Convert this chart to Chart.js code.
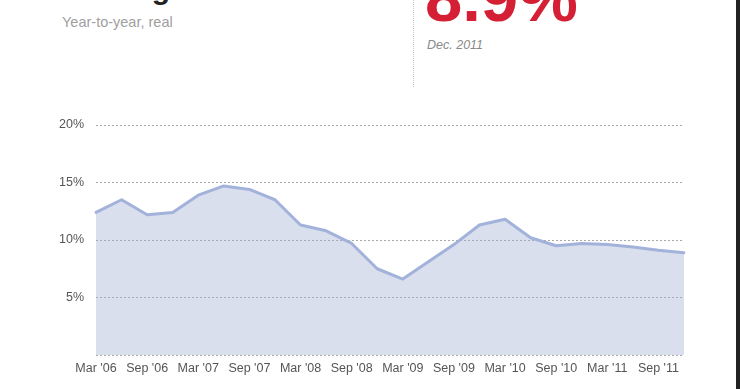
<!DOCTYPE html>
<html>
<head>
<meta charset="utf-8">
<script src="https://cdn.jsdelivr.net/npm/chart.js@4"></script>
<style>
  html, body { margin:0; padding:0; background:#fff; width:740px; height:389px; overflow:hidden; position:relative; font-family:"Liberation Sans", Arial, sans-serif; }
  .abs { position:absolute; white-space:nowrap; line-height:1; }
  #title { right:570px; top:-26.4px; font-size:30px; font-weight:bold; color:#222; }
  #sub { left:62px; top:15.2px; font-size:14.5px; color:#a0a0a0; }
  #sep { left:413px; top:0; height:87px; width:0; border-left:1px dotted #c8c8c8; }
  #big { left:425px; top:-35.7px; font-size:67px; font-weight:bold; color:#d41f35; }
  #date { left:427px; top:39.4px; font-size:12.5px; font-style:italic; color:#8a8a8a; }
  #bar { left:736px; top:0; width:4px; height:389px; background:#222; }
  #wrap { position:absolute; left:0; top:100px; width:700px; height:289px; }
</style>
</head>
<body>
<div id="title" class="abs">Consumer lending</div>
<div id="sub" class="abs">Year-to-year, real</div>
<div id="sep" class="abs"></div>
<div id="big" class="abs">8.9%</div>
<div id="date" class="abs">Dec. 2011</div>
<div id="bar" class="abs"></div>
<div id="wrap"><canvas id="c" width="700" height="289"></canvas></div>
<script>
const categories = [
  "Mar '06","Jun '06","Sep '06","Dec '06",
  "Mar '07","Jun '07","Sep '07","Dec '07",
  "Mar '08","Jun '08","Sep '08","Dec '08",
  "Mar '09","Jun '09","Sep '09","Dec '09",
  "Mar '10","Jun '10","Sep '10","Dec '10",
  "Mar '11","Jun '11","Sep '11","Dec '11"
];
const growth = [
  12.4, 13.5, 12.2, 12.4,
  13.9, 14.7, 14.4, 13.5,
  11.3, 10.8, 9.7, 7.5,
  6.6, 8.1, 9.6, 11.3,
  11.8, 10.2, 9.5, 9.7,
  9.6, 9.4, 9.1, 8.9
];
const tickLabels = ["Mar '06","Sep '06","Mar '07","Sep '07","Mar '08","Sep '08","Mar '09","Sep '09","Mar '10","Sep '10","Mar '11","Sep '11"];
const yTicks = [0, 5, 10, 15, 20];

new Chart(document.getElementById('c'), {
  type: 'line',
  data: {
    labels: categories,
    datasets: [{
      data: growth,
      borderColor: '#a2b2da',
      borderWidth: 3,
      backgroundColor: 'rgba(163,175,213,0.4)',
      fill: 'origin',
      pointRadius: 0,
      pointHoverRadius: 0,
      tension: 0,
      borderJoinStyle: 'round',
      borderCapStyle: 'round'
    }]
  },
  options: {
    responsive: false,
    animation: false,
    events: [],
    layout: { padding: { left: 0, right: 16, top: 25, bottom: 0 } },
    plugins: { legend: { display: false }, tooltip: { enabled: false } },
    scales: {
      x: {
        offset: false,
        grid: { display: false, drawTicks: false },
        border: { display: false },
        ticks: {
          autoSkip: false,
          maxRotation: 0,
          padding: 6,
          color: '#555',
          font: { family: '"Liberation Sans", Arial, sans-serif', size: 12.5 },
          callback: function(v, i) {
            const l = categories[i];
            return tickLabels.includes(l) ? l : null;
          }
        },
        afterFit: function(s) { s.height = 34; }
      },
      y: {
        min: 0, max: 20,
        afterBuildTicks: function(s) { s.ticks = yTicks.map(v => ({ value: v })); },
        grid: { color: '#a8a8a8', lineWidth: 1, drawTicks: false },
        border: { display: false, dash: [2, 2] },
        ticks: {
          padding: 12,
          color: '#555',
          font: { family: '"Liberation Sans", Arial, sans-serif', size: 12.5 },
          callback: function(v) { return v === 0 ? '' : v + '%'; }
        },
        afterFit: function(s) { s.width = 96; }
      }
    }
  }
});
</script>
</body>
</html>
